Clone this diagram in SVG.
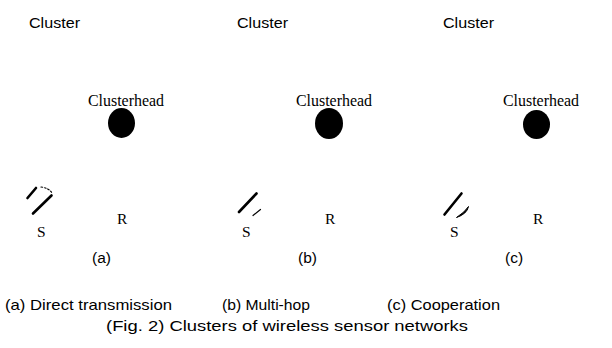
<svg xmlns="http://www.w3.org/2000/svg" width="612" height="348" viewBox="0 0 612 348">
<style>
.cl{font-family:"Liberation Sans",Arial,sans-serif;font-size:15.5px;fill:#000}
.ch{font-family:"Liberation Serif","Times New Roman",serif;font-size:16px;fill:#000}
.sr{font-family:"Liberation Serif","Times New Roman",serif;font-size:15.5px;fill:#000}
.pl{font-family:"Liberation Sans",Arial,sans-serif;font-size:15.5px;fill:#000}
.cap{font-family:"Liberation Sans",Arial,sans-serif;font-size:14.5px;fill:#000}
.mk{stroke:#000;stroke-width:2.6;stroke-linecap:round;fill:none}
.thin{stroke:#000;stroke-width:1.2;stroke-linecap:round;fill:none}
</style>
<rect width="612" height="348" fill="#fff"/>
<g id="panel-a">
  <text class="cl" x="29" y="28" textLength="51" lengthAdjust="spacingAndGlyphs">Cluster</text>
  <g id="clusterhead-a">
    <text class="ch" x="88" y="106" textLength="76" lengthAdjust="spacingAndGlyphs">Clusterhead</text>
    <ellipse cx="121.5" cy="123" rx="13.5" ry="15" fill="#000"/>
  </g>
  <g id="source-a">
    <line class="mk" x1="27.5" y1="198" x2="36" y2="188"/>
    <line class="mk" x1="33" y1="213.5" x2="51.5" y2="195.5"/>
    <path class="thin" d="M41 187 Q49 188 52 193" stroke-dasharray="1.5 2"/>
    <text class="sr" x="37" y="237">S</text>
  </g>
  <g id="relay-a"><text class="sr" x="117" y="224">R</text></g>
  <text class="pl" x="92" y="263">(a)</text>
</g>
<g id="panel-b">
  <text class="cl" x="237" y="28" textLength="51" lengthAdjust="spacingAndGlyphs">Cluster</text>
  <g id="clusterhead-b">
    <text class="ch" x="296" y="106" textLength="76" lengthAdjust="spacingAndGlyphs">Clusterhead</text>
    <ellipse cx="329" cy="123.5" rx="14" ry="15.5" fill="#000"/>
  </g>
  <g id="source-b">
    <line class="mk" x1="239" y1="212" x2="256.5" y2="193.5"/>
    <line class="thin" x1="253" y1="215.5" x2="260.5" y2="209.5"/>
    <text class="sr" x="242" y="237">S</text>
  </g>
  <g id="relay-b"><text class="sr" x="325" y="224">R</text></g>
  <text class="pl" x="298" y="263">(b)</text>
</g>
<g id="panel-c">
  <text class="cl" x="443" y="28" textLength="51" lengthAdjust="spacingAndGlyphs">Cluster</text>
  <g id="clusterhead-c">
    <text class="ch" x="503" y="106" textLength="76" lengthAdjust="spacingAndGlyphs">Clusterhead</text>
    <ellipse cx="536.5" cy="124.5" rx="13.5" ry="14.5" fill="#000"/>
  </g>
  <g id="source-c">
    <line class="mk" x1="444.5" y1="214.5" x2="461.5" y2="193.5"/>
    <path d="M456.5 217.5 Q467 214 468.5 206.5 Q465 212 456.5 217.5 Z" fill="#000" stroke="#000" stroke-width="1"/>
    <text class="sr" x="450" y="237">S</text>
  </g>
  <g id="relay-c"><text class="sr" x="533" y="224">R</text></g>
  <text class="pl" x="505" y="263">(c)</text>
</g>
<g id="connectors"></g>
<g id="caption">
  <text class="cap" x="5" y="310" textLength="167" lengthAdjust="spacingAndGlyphs">(a) Direct transmission</text>
  <text class="cap" x="222" y="310" textLength="88" lengthAdjust="spacingAndGlyphs">(b) Multi-hop</text>
  <text class="cap" x="387" y="310" textLength="113" lengthAdjust="spacingAndGlyphs">(c) Cooperation</text>
  <text class="cap" x="106" y="331" textLength="362" lengthAdjust="spacingAndGlyphs">(Fig. 2) Clusters of wireless sensor networks</text>
</g>
</svg>
